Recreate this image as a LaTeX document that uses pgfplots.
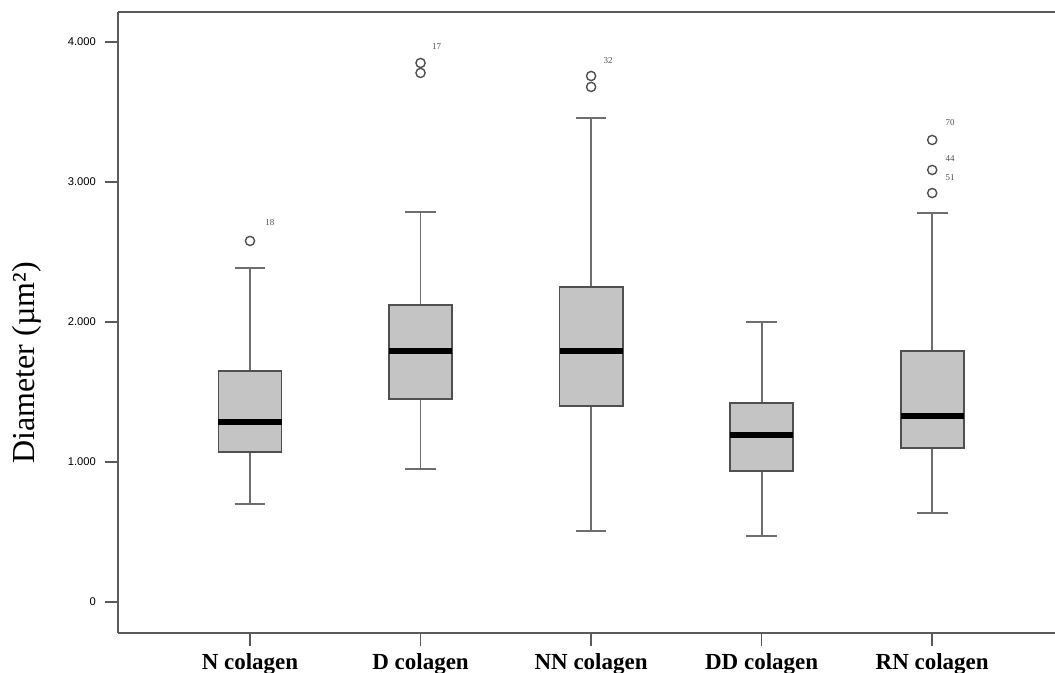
\documentclass[border=0pt]{standalone}
\usepackage{pgfplots}
\pgfplotsset{compat=1.18}
\usepgfplotslibrary{statistics}
\usetikzlibrary{calc}
\usepackage{fontspec}
\setmainfont{Liberation Serif}
\newfontfamily\tickfont{Liberation Sans}
\definecolor{boxfill}{HTML}{C4C4C4}
\definecolor{boxline}{HTML}{505050}
\definecolor{whisk}{HTML}{6E6E6E}
\definecolor{axline}{HTML}{5A5A5A}
\begin{document}
\begin{tikzpicture}
\begin{axis}[
  scale only axis,
  width=468.5pt, height=310.5pt,
  xmin=0.226, xmax=5.72,
  ymin=-0.221, ymax=4.214,
  axis x line*=bottom, axis y line*=left,
  axis line style={draw=axline, line width=0.8pt},
  every tick/.style={draw=axline, line width=0.8pt},
  tick align=outside,
  major tick length=6.5pt,
  xtick={1,2,3,4,5},
  xticklabels={N colagen, D colagen, NN colagen, DD colagen, RN colagen},
  xticklabel style={font=\fontsize{11.5}{12}\selectfont\bfseries, yshift=0pt},
  ytick={0,1,2,3,4},
  yticklabels={0,1.000,2.000,3.000,4.000},
  yticklabel style={font=\tickfont\fontsize{5.6}{6}\selectfont, xshift=-1pt},
  ylabel={Diameter (µm²)},
  ylabel style={at={(axis description cs:-0.0971,0.435)}, anchor=center, font=\fontsize{16}{18}\selectfont},
  boxplot/draw direction=y,
  boxplot/every box/.style={draw=boxline, fill=boxfill, line width=0.9pt},
  boxplot/every whisker/.style={draw=whisk, line width=0.9pt},
  boxplot/every median/.style={draw=black, line width=3pt},
  boxplot/box extend=0.37,
  boxplot/whisker extend=0.18,
  clip=false,
]
\addplot[boxplot prepared={draw position=1, lower whisker=0.700, lower quartile=1.071, median=1.286, upper quartile=1.650, upper whisker=2.386}] coordinates {};
\addplot[boxplot prepared={draw position=2, lower whisker=0.950, lower quartile=1.450, median=1.793, upper quartile=2.121, upper whisker=2.786}] coordinates {};
\addplot[boxplot prepared={draw position=3, lower whisker=0.507, lower quartile=1.400, median=1.793, upper quartile=2.250, upper whisker=3.457}] coordinates {};
\addplot[boxplot prepared={draw position=4, lower whisker=0.471, lower quartile=0.936, median=1.193, upper quartile=1.421, upper whisker=2.000}] coordinates {};
\addplot[boxplot prepared={draw position=5, lower whisker=0.636, lower quartile=1.100, median=1.329, upper quartile=1.793, upper whisker=2.779}] coordinates {};
% outliers
\addplot[only marks, mark=o, mark size=2.3pt, mark options={draw=boxline, line width=0.7pt}] coordinates {
 (1,2.579) (2,3.850) (2,3.779) (3,3.757) (3,3.679) (5,3.300) (5,3.086) (5,2.921)};
\node[font=\fontsize{4.5}{5}\selectfont, text=boxline] at (axis cs:1.117,2.707) {18};
\node[font=\fontsize{4.5}{5}\selectfont, text=boxline] at (axis cs:2.094,3.964) {17};
\node[font=\fontsize{4.5}{5}\selectfont, text=boxline] at (axis cs:3.10,3.864) {32};
\node[font=\fontsize{4.5}{5}\selectfont, text=boxline] at (axis cs:5.105,3.421) {70};
\node[font=\fontsize{4.5}{5}\selectfont, text=boxline] at (axis cs:5.105,3.164) {44};
\node[font=\fontsize{4.5}{5}\selectfont, text=boxline] at (axis cs:5.105,3.029) {51};
\draw[draw=axline, line width=0.9pt] (rel axis cs:0,1) -- (rel axis cs:1,1);
\end{axis}
\pgfresetboundingbox
\path ($(current axis.south west)+(-59pt,-19.5pt)$) rectangle ($(current axis.north east)+(0pt,6pt)$);
\end{tikzpicture}
\end{document}
